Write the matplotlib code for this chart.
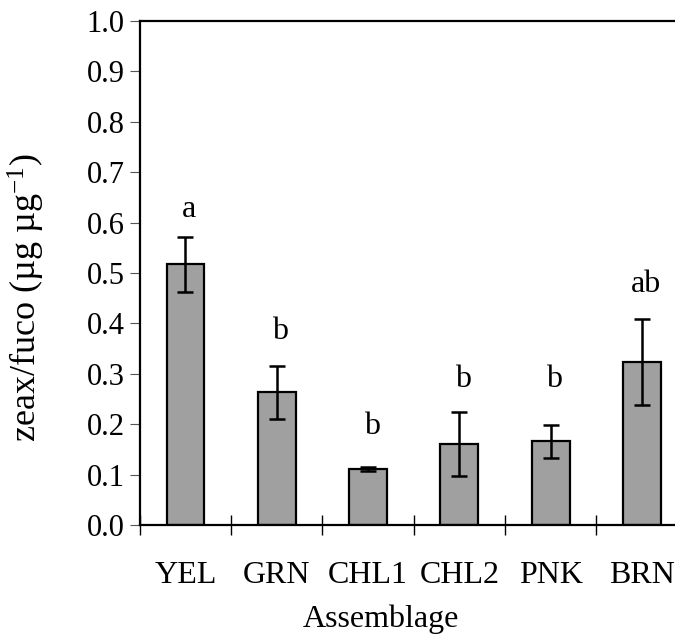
import matplotlib
matplotlib.use("Agg")
import matplotlib.pyplot as plt
import numpy as np

categories = ["YEL", "GRN", "CHL1", "CHL2", "PNK", "BRN"]
means = [0.517, 0.263, 0.111, 0.161, 0.166, 0.324]
errors = [0.055, 0.052, 0.004, 0.064, 0.033, 0.085]
letters = ["a", "b", "b", "b", "b", "ab"]
letter_y = [0.612, 0.370, 0.180, 0.273, 0.273, 0.463]
yticks = [0.0, 0.1, 0.2, 0.3, 0.4, 0.5, 0.6, 0.7, 0.8, 0.9, 1.0]

plt.rcParams["font.family"] = ["Liberation Serif", "DejaVu Serif"]
plt.rcParams["mathtext.fontset"] = "custom"
plt.rcParams["mathtext.rm"] = "Liberation Serif"
plt.rcParams["mathtext.it"] = "Liberation Serif:italic"

W, H = 675, 635
fig = plt.figure(figsize=(W / 100, H / 100), dpi=100)
left_px, right_px, top_px, bot_px = 139.8, 687.6, 21, 525
ax = fig.add_axes([left_px / W, 1 - bot_px / H,
                   (right_px - left_px) / W, (bot_px - top_px) / H])

x = np.arange(len(categories))
ax.bar(x, means, width=0.415, color="#a0a0a0", edgecolor="black",
       linewidth=1.6, zorder=2)
ax.errorbar(x, means, yerr=errors, fmt="none", ecolor="black",
            elinewidth=1.8, capsize=5.8, capthick=1.8, zorder=3)

for xi, lab, ly in zip(x, letters, letter_y):
    ax.text(xi + 0.04, ly, lab, ha="center", va="baseline", fontsize=23)

ax.set_xlim(-0.5, len(categories) - 0.5)
ax.set_ylim(0, 1.0)
ax.set_yticks(yticks)
ax.set_yticklabels([f"{v:.1f}" for v in yticks], fontsize=22)
ax.tick_params(axis="y", direction="out", length=7, width=0.8,
               color="#555555", pad=4)

ax.set_xticks(np.arange(-0.5, len(categories), 1.0))
ax.set_xticklabels([])
ax.set_xticks(x, minor=True)
ax.set_xticklabels(categories, minor=True, fontsize=23)
ax.tick_params(axis="x", which="major", direction="inout", length=14.4,
               width=1.0)
ax.tick_params(axis="x", which="minor", length=0, pad=26)

for s in ["left", "bottom", "top"]:
    ax.spines[s].set_linewidth(1.6)
ax.spines["right"].set_visible(False)

ax.set_xlabel("Assemblage", fontsize=23)
ax.xaxis.set_label_coords((381 - left_px) / (right_px - left_px), -0.158)
ax.set_ylabel("zeax/fuco (µg µg$^{-1}$)", fontsize=26)
ax.yaxis.set_label_coords(-0.170, (bot_px - 298) / (bot_px - top_px))

fig.savefig("out.png", dpi=100)
